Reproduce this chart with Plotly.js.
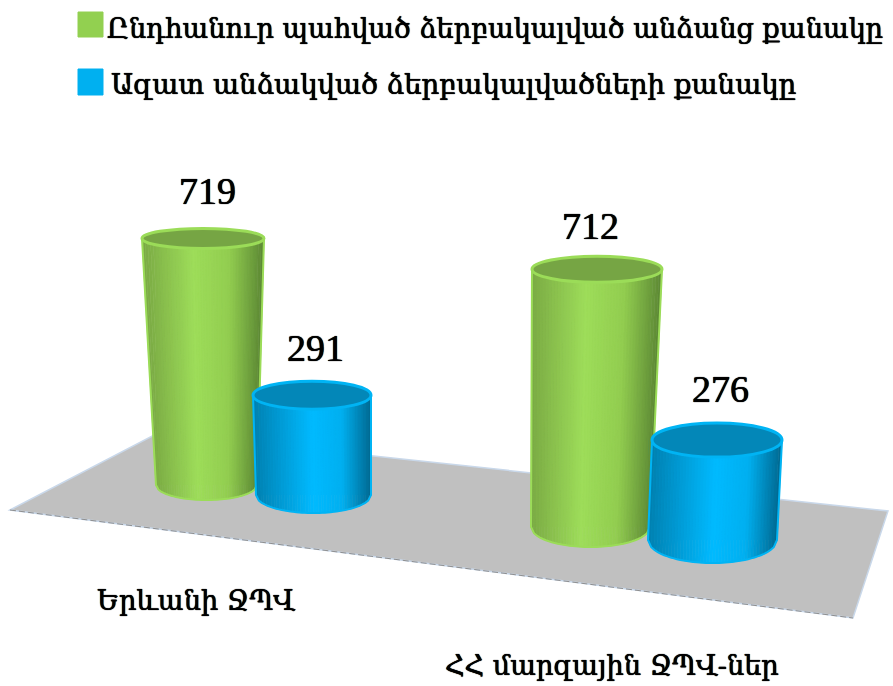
<!DOCTYPE html>
<html><head><meta charset="utf-8">
<script src="https://cdn.plot.ly/plotly-3.0.1.min.js"></script>
<style>html,body{margin:0;padding:0;background:#fff}#c{width:893px;height:686px}</style>
</head><body><div id="c"></div>
<script>
// ---- data ----
const categories = ["Երևանի ՋՊՎ", "ՀՀ մարզային ՋՊՎ-ներ"];
const seriesNames = ["Ընդհանուր պահված ձերբակալված անձանց քանակը", "Ազատ անձակված ձերբակալվածների քանակը"];
const heldCounts = [719, 712];
const releasedCounts = [291, 276];

// ---- drawing constants (perspective of the fake 3D scene, in page pixels) ----
const W = 893, H = 686;
const groupScale = [0.343, 0.362];           // px per unit for each group
const held = {
  baseY: [485, 527], topL: [142, 532], topR: [264, 662], botL: [156, 531], botR: [257, 650],
  rTop: [10, 13], rBot: [15, 20], lift: [47, 43], labelDx: [4, -7]
};
const released = {
  baseY: [495, 540], topL: [253, 652], topR: [371, 782], botL: [256, 648], botR: [371, 777],
  rTop: [14, 17], rBot: [18, 23], lift: [47, 51], labelDx: [3, 3]
};
const seriesStyle = [
  {swatch:"#92d050", edge:"#9bdc58", cap:"#76a544",
   stops:[[0,[122,170,68]],[.42,[158,221,90]],[.72,[146,205,80]],[1,[92,136,52]]]},
  {swatch:"#00b0f0", edge:"#00b4f4", cap:"#0387b8",
   stops:[[0,[0,128,176]],[.5,[0,186,255]],[.75,[0,176,240]],[1,[0,104,144]]]}
];
const floorPts = [[10,510],[158,433],[888,511],[853,618]];
const FONT = "DejaVu Serif";
const HEAVY = "0 0 0.7px #000, 0 0 0.7px #000";

// ---- helpers ----
const py = px => 1 - px / H;
function shade(stops, t){
  for(let i=1;i<stops.length;i++){
    if(t<=stops[i][0]){
      const a=stops[i-1], b=stops[i], f=(t-a[0])/(b[0]-a[0]);
      const c=a[1].map((v,k)=>Math.round(v+(b[1][k]-v)*f));
      return `rgb(${c.join(",")})`;
    }
  }
  return `rgb(${stops[stops.length-1][1].join(",")})`;
}

const traces = [], shapes = [], annotations = [];

// floor
shapes.push({type:"path", layer:"below", xref:"x", yref:"paper",
  path:"M "+floorPts.map(p=>p[0]+" "+py(p[1])).join(" L ")+" Z",
  fillcolor:"#c0c0c0", line:{color:"#c9d8ea", width:1.5}});
shapes.push({type:"line", layer:"below", xref:"x", yref:"paper",
  x0:floorPts[0][0], y0:py(floorPts[0][1]), x1:floorPts[3][0], y1:py(floorPts[3][1]),
  line:{color:"#8f8f8f", width:1, dash:"6px,3px"}});

function cylinder(g, value, spec, styleIdx, name){
  const st = seriesStyle[styleIdx];
  const scale = groupScale[g];
  const yref = g===0 ? "y" : "y2";
  const base = (H - spec.baseY[g]) / scale;
  const top = base + value;
  const rT = spec.rTop[g]/scale, rB = spec.rBot[g]/scale;
  const xAt = (t,which)=> which==="top"
      ? spec.topL[g]+(spec.topR[g]-spec.topL[g])*t
      : spec.botL[g]+(spec.botR[g]-spec.botL[g])*t;
  // the value itself
  traces.push({type:"bar", name:name, showlegend:false, hoverinfo:"name+y",
    x:[(spec.botL[g]+spec.botR[g])/2], y:[value], base:[base],
    width:[spec.botR[g]-spec.botL[g]], yaxis:g===0?"y":"y2",
    marker:{color:st.swatch, line:{width:0}}});
  // side shading
  const N = 44;
  for(let i=0;i<N;i++){
    const t0=i/N, t1=(i+1)/N, c=shade(st.stops,(t0+t1)/2);
    const arc=t=>base - rB*Math.sqrt(Math.max(0,1-(2*t-1)*(2*t-1)));
    shapes.push({type:"path", xref:"x", yref:yref,
      path:`M ${xAt(t0,"top")} ${top} L ${xAt(t1,"top")} ${top} L ${xAt(t1,"bot")} ${arc(t1)} L ${xAt(t0,"bot")} ${arc(t0)} Z`,
      fillcolor:c, line:{color:c, width:0.6}});
  }
  // outline of the sides and lower rim
  let outline=`M ${xAt(0,"top")} ${top} L ${xAt(0,"bot")} ${base}`;
  for(let i=1;i<=40;i++){
    const t=i/40;
    outline+=` L ${xAt(t,"bot")} ${base - rB*Math.sqrt(Math.max(0,1-(2*t-1)*(2*t-1)))}`;
  }
  outline+=` L ${xAt(1,"top")} ${top}`;
  shapes.push({type:"path", xref:"x", yref:yref, path:outline, line:{color:st.edge, width:2}});
  // cap
  shapes.push({type:"circle", xref:"x", yref:yref,
    x0:spec.topL[g], x1:spec.topR[g], y0:top-rT, y1:top+rT,
    fillcolor:st.cap, line:{color:st.edge, width:3}});
  // value label
  annotations.push({x:(spec.topL[g]+spec.topR[g])/2 + spec.labelDx[g], y:top, xref:"x", yref:yref,
    yshift:spec.lift[g], text:String(value), showarrow:false,
    xanchor:"center", yanchor:"middle",
    font:{family:"Liberation Serif", size:38, color:"#000", shadow:HEAVY}});
}

// draw order matters: green first, blue overlaps it
for(let g=0;g<categories.length;g++){
  cylinder(g, heldCounts[g], held, 0, seriesNames[0]);
  cylinder(g, releasedCounts[g], released, 1, seriesNames[1]);
}

// legend
const legendRows = [[12,37,105,28,27.2],[69,95,109,85,27.6]];
seriesNames.forEach((n,i)=>{
  const r=legendRows[i];
  shapes.push({type:"rect", xref:"x", yref:"paper", x0:78, x1:103, y0:py(r[1]), y1:py(r[0]),
    fillcolor:seriesStyle[i].swatch, line:{color:seriesStyle[i].swatch, width:1}});
  annotations.push({x:r[2], y:py(r[3]), xref:"x", yref:"paper", text:n, showarrow:false,
    xanchor:"left", yanchor:"middle", font:{family:FONT, size:r[4], color:"#000", shadow:HEAVY}});
});

// category labels
const catLabelPos = [[196,600],[612,665]];
categories.forEach((c,i)=>{
  annotations.push({x:catLabelPos[i][0], y:py(catLabelPos[i][1]), xref:"x", yref:"paper",
    text:c, showarrow:false, xanchor:"center", yanchor:"middle",
    font:{family:FONT, size:27.2, color:"#000", shadow:HEAVY}});
});

const layout = {
  width:W, height:H, margin:{l:0,r:0,t:0,b:0},
  paper_bgcolor:"#fff", plot_bgcolor:"rgba(0,0,0,0)", showlegend:false,
  xaxis:{range:[0,W], visible:false, fixedrange:true},
  yaxis:{range:[0,H/groupScale[0]], visible:false, fixedrange:true},
  yaxis2:{range:[0,H/groupScale[1]], visible:false, fixedrange:true, overlaying:"y"},
  shapes, annotations, barmode:"overlay"
};
Plotly.newPlot("c", traces, layout, {displayModeBar:false, staticPlot:true});
</script></body></html>
